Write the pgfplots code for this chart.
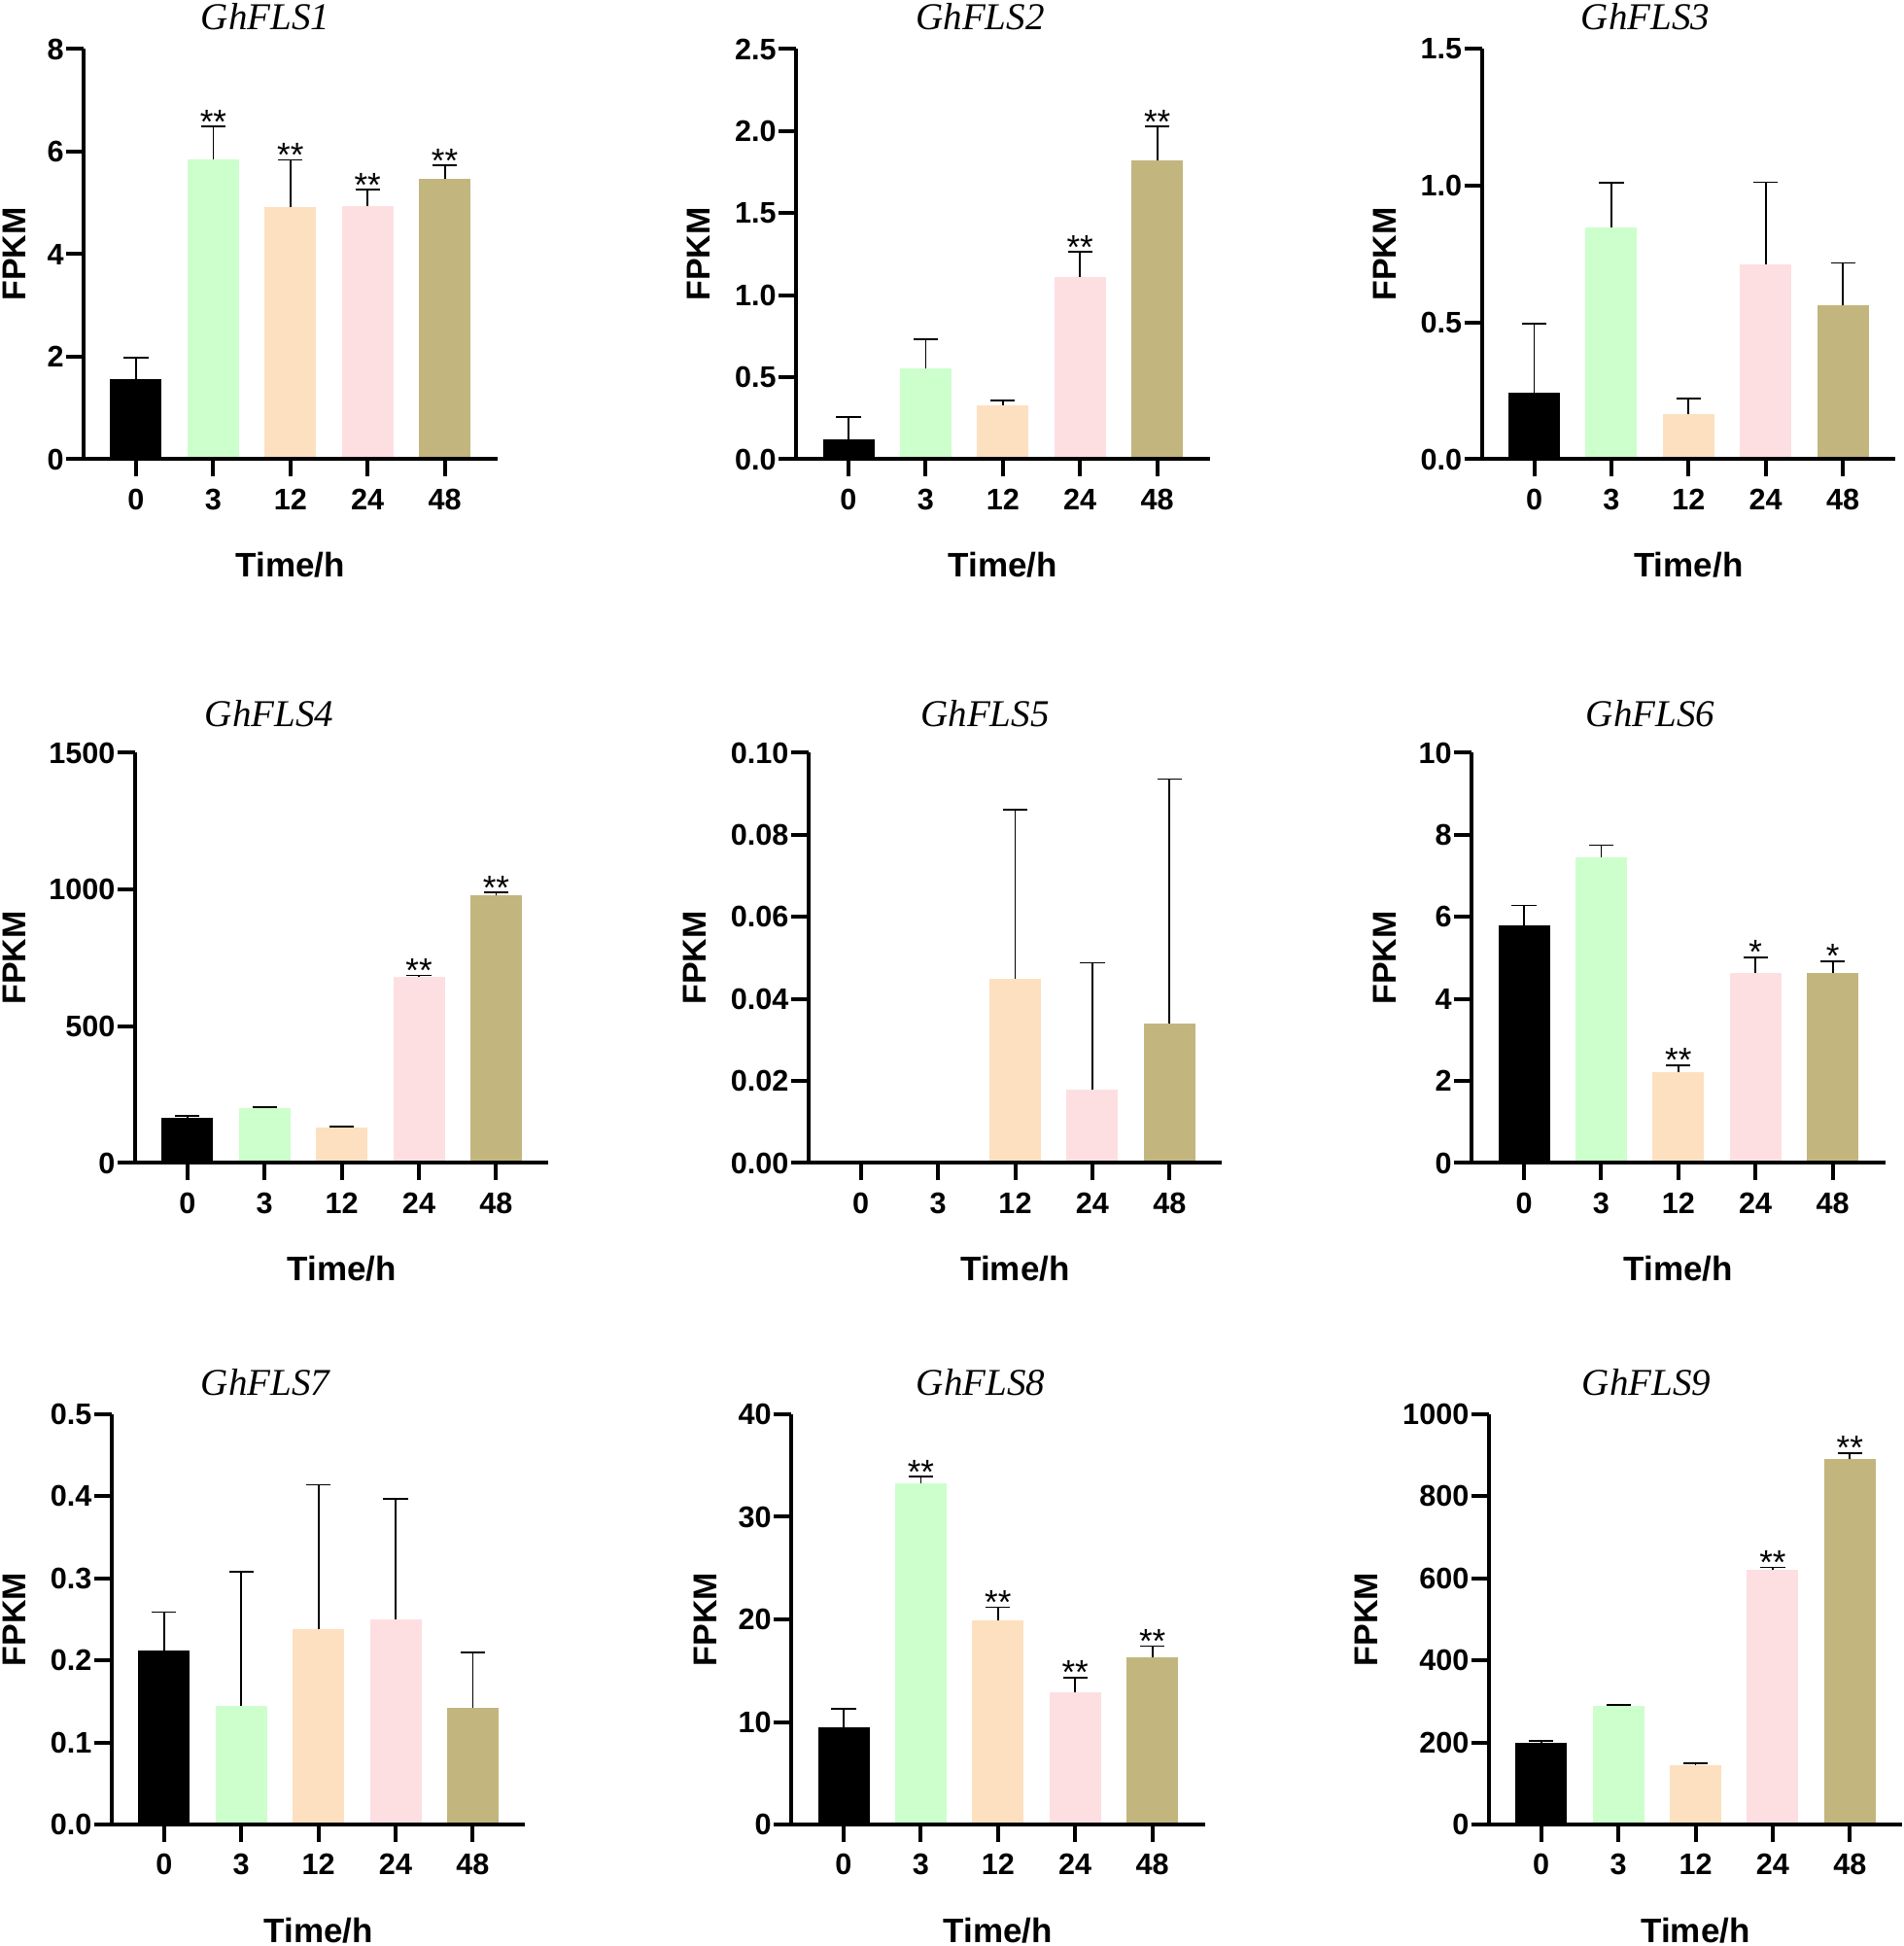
\documentclass[border=0pt]{standalone}
\usepackage{fontspec}
\setmainfont{Liberation Sans}
\newfontfamily\tnr{Liberation Serif}
\usepackage{pgfplots}
\pgfplotsset{compat=1.18}

\definecolor{cA}{RGB}{0,0,0}
\definecolor{cB}{RGB}{204,255,204}
\definecolor{cC}{RGB}{253,224,192}
\definecolor{cD}{RGB}{253,223,226}
\definecolor{cE}{RGB}{194,182,126}

\pgfplotsset{
 fls/.style={
  anchor=south west, scale only axis, width=212.8pt, height=211pt,
  xmin=-0.68, xmax=4.68, ymin=0,
  xtick={0,1,2,3,4}, xticklabels={0,3,12,24,48},
  axis x line=bottom, axis y line=left,
  axis line style={line width=2pt, -},
  x axis line style={shorten <=-9pt},
  tick align=outside, major tick length=9pt,
  tick style={line width=2pt, black},
  minor tick num=0,
  ticklabel style={font=\bfseries\fontsize{15.3}{18}\selectfont},
  yticklabel style={inner sep=1pt},
  xticklabel style={inner ysep=6pt},
  xlabel={Time/h}, ylabel={FPKM},
  xlabel style={font=\bfseries\fontsize{17.5}{21}\selectfont, at={(axis description cs:0.5,0)}, anchor=center, yshift=-54.5pt},
  ylabel style={font=\bfseries\fontsize{17}{20}\selectfont, anchor=center},
  title style={font=\tnr\itshape\fontsize{19.5}{22}\selectfont, anchor=center},
  axis on top,
  clip=false,
 },
 fb/.style={ybar, bar width=26.5pt, bar shift=0pt, draw=none, fill=#1,
   error bars/y dir=plus, error bars/y explicit,
   error bars/error mark=|,
   error bars/error bar style={line width=0.9pt, black},
   error bars/error mark options={line width=0.9pt, black, mark size=6.3pt}},
 ast/.style={draw=none, mark=none, nodes near coords, point meta=explicit symbolic,
   nodes near coords style={font=\fontsize{17.5}{20}\selectfont, anchor=base, inner sep=0pt, yshift=-3.5pt, black}},
}
\newcommand\fbar[4]{\addplot[fb=#1] coordinates {(#2,#3) +- (0,#4)};}

\begin{document}
\begin{tikzpicture}
\useasboundingbox (0,0) rectangle (979.5pt,1001pt);

% ---------- GhFLS1
\begin{axis}[fls, at={(43pt,764.75pt)}, ymax=8, ytick={0,2,4,6,8}, yticklabels={0,2,4,6,8},
  title={GhFLS1}, title style={at={(axis description cs:0.4394,1)}, yshift=10.5pt},
  ylabel style={at={(axis description cs:-0.1673,0.5)}}]
\fbar{cA}{0}{1.57}{0.41}
\fbar{cB}{1}{5.85}{0.64}
\fbar{cC}{2}{4.91}{0.93}
\fbar{cD}{3}{4.93}{0.33}
\fbar{cE}{4}{5.46}{0.27}
\addplot[ast] coordinates {(1,6.49)[**] (2,5.84)[**] (3,5.26)[**] (4,5.73)[**]};
\end{axis}

% ---------- GhFLS2
\begin{axis}[fls, at={(409.5pt,764.75pt)}, ymax=2.5, ytick={0,0.5,1,1.5,2,2.5}, yticklabels={0.0,0.5,1.0,1.5,2.0,2.5},
  title={GhFLS2}, title style={at={(axis description cs:0.4453,1)}, yshift=10.5pt},
  ylabel style={at={(axis description cs:-0.235,0.5)}}]
\fbar{cA}{0}{0.124}{0.133}
\fbar{cB}{1}{0.552}{0.181}
\fbar{cC}{2}{0.330}{0.028}
\fbar{cD}{3}{1.112}{0.152}
\fbar{cE}{4}{1.821}{0.206}
\addplot[ast] coordinates {(3,1.264)[**] (4,2.027)[**]};
\end{axis}

% ---------- GhFLS3
\begin{axis}[fls, at={(762.25pt,764.75pt)}, ymax=1.5, ytick={0,0.5,1,1.5}, yticklabels={0.0,0.5,1.0,1.5},
  title={GhFLS3}, title style={at={(axis description cs:0.396,1)}, yshift=10.5pt},
  ylabel style={at={(axis description cs:-0.235,0.5)}}]
\fbar{cA}{0}{0.244}{0.251}
\fbar{cB}{1}{0.848}{0.163}
\fbar{cC}{2}{0.164}{0.057}
\fbar{cD}{3}{0.712}{0.301}
\fbar{cE}{4}{0.563}{0.155}
\end{axis}

% ---------- GhFLS4
\begin{axis}[fls, at={(69.4pt,402.75pt)}, ymax=1500, ytick={0,500,1000,1500}, yticklabels={0,500,1000,1500},
  title={GhFLS4}, title style={at={(axis description cs:0.3247,1)}, yshift=14pt},
  ylabel style={at={(axis description cs:-0.2914,0.5)}}]
\fbar{cA}{0}{164}{9}
\fbar{cB}{1}{200}{5}
\fbar{cC}{2}{130}{4}
\fbar{cD}{3}{682}{4}
\fbar{cE}{4}{978}{11}
\addplot[ast] coordinates {(3,686)[**] (4,989)[**]};
\end{axis}

% ---------- GhFLS5
\begin{axis}[fls, at={(415.85pt,402.75pt)}, ymax=0.1, ytick={0,0.02,0.04,0.06,0.08,0.1}, yticklabels={0.00,0.02,0.04,0.06,0.08,0.10},
  title={GhFLS5}, title style={at={(axis description cs:0.427,1)}, yshift=14pt},
  ylabel style={at={(axis description cs:-0.2742,0.5)}}]
\fbar{cA}{0}{0}{0}
\fbar{cB}{1}{0}{0}
\fbar{cC}{2}{0.0449}{0.0413}
\fbar{cD}{3}{0.0178}{0.0310}
\fbar{cE}{4}{0.0341}{0.0595}
\end{axis}

% ---------- GhFLS6
\begin{axis}[fls, at={(757pt,402.75pt)}, ymax=10, ytick={0,2,4,6,8,10}, yticklabels={0,2,4,6,8,10},
  title={GhFLS6}, title style={at={(axis description cs:0.4323,1)}, yshift=14pt},
  ylabel style={at={(axis description cs:-0.2103,0.5)}}]
\fbar{cA}{0}{5.79}{0.49}
\fbar{cB}{1}{7.45}{0.30}
\fbar{cC}{2}{2.21}{0.18}
\fbar{cD}{3}{4.64}{0.38}
\fbar{cE}{4}{4.64}{0.28}
\addplot[ast] coordinates {(2,2.39)[**] (3,5.02)[*] (4,4.92)[*]};
\end{axis}

% ---------- GhFLS7
\begin{axis}[fls, at={(57.4pt,62.5pt)}, ymax=0.5, ytick={0,0.1,0.2,0.3,0.4,0.5}, yticklabels={0.0,0.1,0.2,0.3,0.4,0.5},
  title={GhFLS7}, title style={at={(axis description cs:0.3717,1)}, yshift=10.5pt},
  ylabel style={at={(axis description cs:-0.235,0.5)}}]
\fbar{cA}{0}{0.212}{0.047}
\fbar{cB}{1}{0.145}{0.163}
\fbar{cC}{2}{0.238}{0.176}
\fbar{cD}{3}{0.250}{0.147}
\fbar{cE}{4}{0.142}{0.068}
\end{axis}

% ---------- GhFLS8
\begin{axis}[fls, at={(407pt,62.5pt)}, ymax=40, ytick={0,10,20,30,40}, yticklabels={0,10,20,30,40},
  title={GhFLS8}, title style={at={(axis description cs:0.4582,1)}, yshift=10.5pt},
  ylabel style={at={(axis description cs:-0.208,0.5)}}]
\fbar{cA}{0}{9.50}{1.77}
\fbar{cB}{1}{33.24}{0.68}
\fbar{cC}{2}{19.87}{1.31}
\fbar{cD}{3}{12.92}{1.43}
\fbar{cE}{4}{16.26}{1.13}
\addplot[ast] coordinates {(1,33.92)[**] (2,21.18)[**] (3,14.35)[**] (4,17.39)[**]};
\end{axis}

% ---------- GhFLS9
\begin{axis}[fls, at={(765.85pt,62.5pt)}, ymax=1000, ytick={0,200,400,600,800,1000}, yticklabels={0,200,400,600,800,1000},
  title={GhFLS9}, title style={at={(axis description cs:0.3813,1)}, yshift=10.5pt},
  ylabel style={at={(axis description cs:-0.2965,0.5)}}]
\fbar{cA}{0}{199}{4}
\fbar{cB}{1}{289}{2}
\fbar{cC}{2}{145.5}{3.5}
\fbar{cD}{3}{620}{7}
\fbar{cE}{4}{890}{16}
\addplot[ast] coordinates {(3,627)[**] (4,906)[**]};
\end{axis}
\end{tikzpicture}
\end{document}
